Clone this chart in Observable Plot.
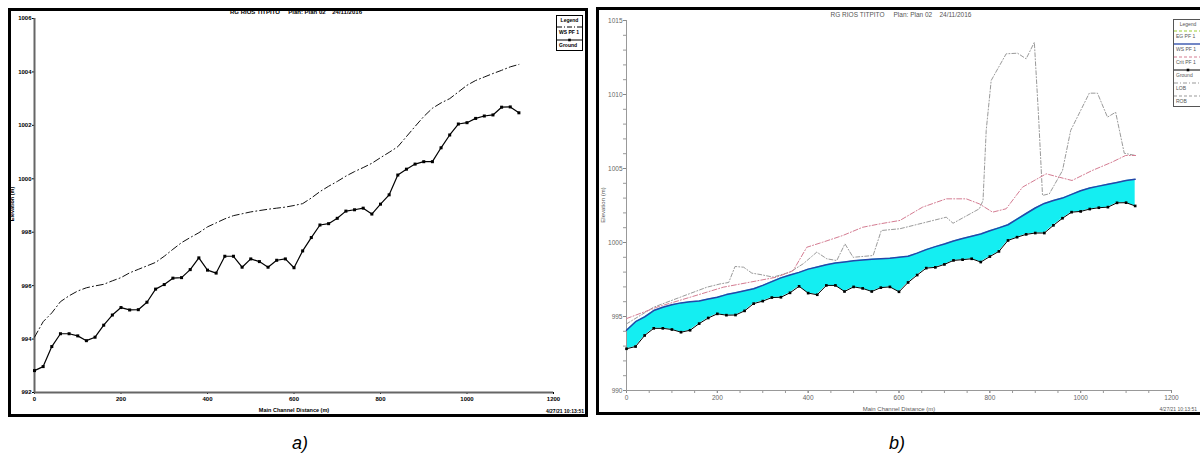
<!DOCTYPE html>
<html><head><meta charset="utf-8">
<script src="https://cdn.jsdelivr.net/npm/d3@7"></script>
<script src="https://cdn.jsdelivr.net/npm/@observablehq/plot@0.6"></script>
<style>
body{margin:0;background:#fff;width:1200px;height:465px;position:relative;overflow:hidden;font-family:"Liberation Sans",Arial,sans-serif}
.frame{position:absolute;border:3px solid #000;box-sizing:border-box}
.abs{position:absolute;white-space:pre;line-height:1}
.chart{position:absolute}
</style></head><body>
<script>
// ---- data ----
const stations = [0,20,40,60,80,100,120,140,160,180,200,220,240,260,280,300,320,340,360,380,400,420,440,460,480,500,520,540,560,580,600,620,640,660,680,700,720,740,760,780,800,820,840,860,880,900,920,940,960,980,1000,1020,1040,1060,1080,1100,1120];
const groundElev = [992.82,992.97,993.72,994.2,994.2,994.12,993.94,994.07,994.52,994.9,995.18,995.09,995.1,995.38,995.87,996.04,996.28,996.3,996.6,997.04,996.58,996.47,997.1,997.1,996.69,997.0,996.9,996.69,996.95,997.0,996.67,997.3,997.8,998.27,998.32,998.52,998.79,998.84,998.9,998.68,999.05,999.4,1000.14,1000.36,1000.55,1000.64,1000.64,1001.16,1001.64,1002.05,1002.1,1002.26,1002.35,1002.39,1002.68,1002.69,1002.47];
const wsElev = [994.07,994.65,994.98,995.4,995.62,995.8,995.92,995.99,996.05,996.18,996.3,996.48,996.61,996.74,996.87,997.1,997.36,997.61,997.8,997.98,998.2,998.35,998.5,998.62,998.69,998.76,998.81,998.86,998.9,998.94,999.0,999.07,999.28,999.52,999.72,999.9,1000.1,1000.27,1000.42,1000.58,1000.79,1000.99,1001.2,1001.58,1001.96,1002.33,1002.64,1002.84,1003.0,1003.25,1003.5,1003.68,1003.81,1003.94,1004.06,1004.19,1004.28];
const critSta = [0,67,140,213,272,331,367,397,432,476,520,558,602,652,704,748,777,806,836,872,924,953,981,1025,1069,1099,1121];
const critElev = [994.86,995.63,996.3,996.98,997.32,997.66,998.1,999.68,1000.02,1000.47,1001.03,1001.26,1001.49,1002.39,1002.95,1002.95,1002.61,1002.05,1002.28,1003.74,1004.64,1004.41,1004.19,1004.86,1005.43,1005.88,1005.88];
const robSta = [0,60,118,177,206,225,239,258,276,294,323,360,389,419,441,463,481,499,543,561,602,631,704,719,777,785,792,803,836,861,880,898,907,916,931,960,978,1019,1037,1059,1077,1096,1121];
const robElev = [994.5,995.63,996.3,996.98,997.2,997.3,998.38,998.33,997.93,997.84,997.66,998.0,998.56,999.35,998.9,998.78,999.91,999.0,999.12,1000.81,1000.93,1001.15,1001.71,1001.3,1002.28,1002.84,1007.57,1010.95,1012.75,1012.79,1012.41,1013.53,1008.7,1003.18,1003.29,1004.86,1007.57,1010.09,1010.09,1008.47,1008.8,1006.03,1005.88];
const xTicks = [0,200,400,600,800,1000,1200];
const yTicksA = [992,994,996,998,1000,1002,1004,1006];
const yTicksB = [990,995,1000,1005,1010,1015];
const xMinorB = [0,50,100,150,200,250,300,350,400,450,500,550,600,650,700,750,800,850,900,950,1000,1050,1100,1150,1200];
const yMinorB = [990,991,992,993,994,995,996,997,998,999,1000,1001,1002,1003,1004,1005,1006,1007,1008,1009,1010,1011,1012,1013,1014,1015];
const titleText = "RG RIOS TITPITO     Plan: Plan 02    24/11/2016";
const xLabel = "Main Channel Distance (m)";
const yLabel = "Elevation (m)";
const stampText = "4/27/21 10:13:51";
const legendA = ["WS PF 1","Ground"];
const legendB = ["EG PF 1","WS PF 1","Crit PF 1","Ground","LOB","ROB"];
const captions = ["a)","b)"];

// ---- tables ----
const table = stations.map((s,i)=>({sta:s, ground:groundElev[i], ws:wsElev[i]}));
const critTable = critSta.map((s,i)=>({sta:s, elev:critElev[i]}));
const robTable = robSta.map((s,i)=>({sta:s, elev:robElev[i]}));
const fmt = d => String(d);

function place(node, left, top){ node.classList.add("chart"); node.style.left=left+"px"; node.style.top=top+"px"; document.body.appendChild(node); }
function frame(l,t,w,h){ const d=document.createElement("div"); d.className="frame"; Object.assign(d.style,{left:l+"px",top:t+"px",width:w+"px",height:h+"px"}); document.body.appendChild(d); }
function text(s,x,y,css,rot,right){ const d=document.createElement("div"); d.className="abs"; d.textContent=s; Object.assign(d.style,{left:x+"px",top:y+"px",transform:"translate("+(right?"-100%":"-50%")+",-50%)"+(rot?" rotate("+rot+"deg)":"")},css||{}); document.body.appendChild(d); }

// ---- panel a ----
frame(8,8,580,409);
const chartA = Plot.plot({
  width:574, height:403, marginLeft:23, marginRight:32, marginTop:7, marginBottom:22,
  style:{fontFamily:"Liberation Sans, Arial, sans-serif", fontSize:"6px", fontWeight:"bold", color:"#000", background:"transparent"},
  x:{domain:[xTicks[0], xTicks[xTicks.length-1]], label:null},
  y:{domain:[yTicksA[0], yTicksA[yTicksA.length-1]], label:null},
  marks:[
    Plot.axisX({ticks:xTicks, tickSize:2, tickPadding:2, tickFormat:fmt, label:null}),
    Plot.axisY({ticks:yTicksA, tickSize:2, tickPadding:1, tickFormat:fmt, label:null}),
    Plot.ruleX([xTicks[0]], {stroke:"#666", strokeWidth:2}),
    Plot.ruleY([yTicksA[0]], {stroke:"#666", strokeWidth:2}),
    Plot.line(table, {x:"sta", y:"ws", stroke:"#111", strokeWidth:1, strokeDasharray:"7,3,1,3"}),
    Plot.line(table, {x:"sta", y:"ground", stroke:"#000", strokeWidth:1.2}),
    Plot.dot(table, {x:"sta", y:"ground", symbol:"square", r:1.7, fill:"#000", stroke:null})
  ]
});
place(chartA, 11, 11);
text(titleText, 296, 12, {fontSize:"6px", fontWeight:"bold", color:"#000"});
text(xLabel, 294, 411, {fontSize:"5.5px", fontWeight:"bold", color:"#000"});
text(stampText, 584, 411, {fontSize:"5px", fontWeight:"bold", color:"#000"}, 0, true);
text(yLabel, 13, 204, {fontSize:"5.5px", fontWeight:"bold", color:"#000"}, -90);

// ---- panel b ----
frame(596,7,610,408);
const chartB = Plot.plot({
  width:601, height:402, marginLeft:27, marginRight:29, marginTop:10, marginBottom:22,
  style:{fontFamily:"Liberation Sans, Arial, sans-serif", fontSize:"6.5px", color:"#666", background:"transparent"},
  x:{domain:[xTicks[0], xTicks[xTicks.length-1]], label:null},
  y:{domain:[yTicksB[0], yTicksB[yTicksB.length-1]], label:null},
  marks:[
    Plot.areaY(table, {x:"sta", y1:"ground", y2:"ws", fill:"#14eef2"}),
    Plot.axisX({ticks:xMinorB, tickSize:3, tickFormat:()=>"", label:null, stroke:"#999"}),
    Plot.axisY({ticks:yMinorB, tickSize:3, tickFormat:()=>"", label:null, stroke:"#999"}),
    Plot.axisX({ticks:xTicks, tickSize:3, tickPadding:2, tickFormat:fmt, label:null, stroke:"#888"}),
    Plot.axisY({ticks:yTicksB, tickSize:3, tickPadding:1, tickFormat:fmt, label:null, stroke:"#888"}),
    Plot.ruleX([xTicks[0]], {stroke:"#999", strokeWidth:1}),
    Plot.ruleY([yTicksB[0]], {stroke:"#999", strokeWidth:1}),
    Plot.line(robTable, {x:"sta", y:"elev", stroke:"#9a9a9a", strokeWidth:1, strokeDasharray:"4,2,1,2"}),
    Plot.line(critTable, {x:"sta", y:"elev", stroke:"#d47c92", strokeWidth:1, strokeDasharray:"5,2,1,2"}),
    Plot.line(table, {x:"sta", y:"ws", stroke:"#2646a8", strokeWidth:1.5}),
    Plot.line(table, {x:"sta", y:"ground", stroke:"#000", strokeWidth:1}),
    Plot.dot(table, {x:"sta", y:"ground", symbol:"square", r:1.5, fill:"#000", stroke:null})
  ]
});
place(chartB, 599, 10);
text(titleText, 901, 15, {fontSize:"6.5px", color:"#555"});
text(xLabel, 899, 409, {fontSize:"6px", color:"#555"});
text(stampText, 1197, 409, {fontSize:"5px", color:"#555"}, 0, true);
text(yLabel, 603, 205, {fontSize:"6px", color:"#555"}, -90);

// ---- legends ----
function legend(left, top, w, entries, styles, bold, color){
  const h = 8 + entries.length*13 + 2;
  const svg = d3.create("svg").attr("width", w).attr("height", h)
    .style("position","absolute").style("left",left+"px").style("top",top+"px")
    .style("font-family","Liberation Sans, Arial").style("font-size","5px").style("font-weight", bold?"bold":"normal");
  svg.append("rect").attr("x",0.5).attr("y",0.5).attr("width",w-1).attr("height",h-1).attr("fill","#fff").attr("stroke", color);
  svg.append("text").attr("x",w/2).attr("y",7).attr("text-anchor","middle").attr("fill",color).text("Legend");
  entries.forEach((e,i)=>{
    const y0 = 8 + i*13;
    const st = styles[i];
    svg.append("line").attr("x1",1).attr("x2",w-1).attr("y1",y0+4).attr("y2",y0+4)
      .attr("stroke",st.c).attr("stroke-width",st.w||1).attr("stroke-dasharray",st.d||null);
    if(st.m) svg.append("rect").attr("x",w/2-1.3).attr("y",y0+2.7).attr("width",2.6).attr("height",2.6).attr("fill","#000");
    svg.append("text").attr("x",3).attr("y",y0+11).attr("fill",color).text(e);
  });
  document.body.appendChild(svg.node());
}
legend(556, 15, 27, legendA, [{c:"#000",d:"5,2,1,2"},{c:"#000",m:true}], true, "#000");
legend(1173, 19, 30, legendB, [{c:"#9c3",d:"3,2"},{c:"#2646a8",w:1.3},{c:"#d47c92",d:"3,2"},{c:"#000",m:true},{c:"#999",d:"4,2,1,2"},{c:"#999",d:"3,2"}], false, "#555");

// ---- captions ----
text(captions[0], 300, 443, {fontSize:"18px", fontStyle:"italic", color:"#000"});
text(captions[1], 897, 443, {fontSize:"18px", fontStyle:"italic", color:"#000"});
</script>
</body></html>
